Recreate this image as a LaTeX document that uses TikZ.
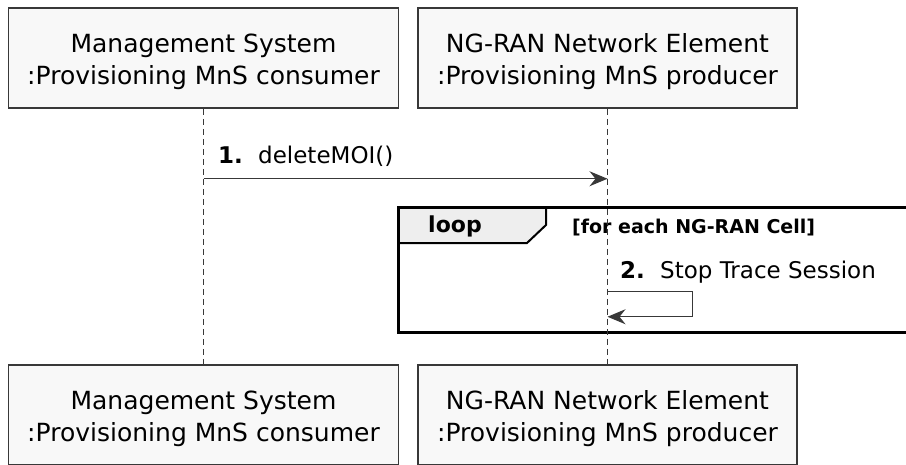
\documentclass[tikz,border=0pt]{standalone}
\usepackage{fontspec}
\setmainfont{DejaVu Sans}
\usetikzlibrary{arrows.meta}
\definecolor{partfill}{RGB}{248,248,248}
\definecolor{partline}{RGB}{56,56,56}
\definecolor{tabfill}{RGB}{238,238,238}
\tikzset{
  participant/.style={draw=partline, line width=1.5pt, fill=partfill,
    minimum height=100pt, inner sep=0pt},
  parttext/.style={align=center, inner sep=0pt, font=\fontsize{25}{32}\selectfont},
  lifeline/.style={draw=partline, line width=1pt, dash pattern=on 6pt off 4pt},
  msg/.style={draw=partline, line width=1pt, -{Stealth[length=18pt,width=15pt,inset=6pt]}},
  msglabel/.style={anchor=base west, inner sep=0pt, font=\fontsize{23}{28}\selectfont},
  seqnum/.style={msglabel, font=\bfseries\fontsize{23}{28}\selectfont},
}
\newcommand{\partbox}[5]{%
  \node[participant, minimum width=#4pt] (#1) at (#2,#3) {};
  \node[parttext] (#1 text) at ([yshift=-4pt]#1.center) {#5};}
\begin{document}
\begin{tikzpicture}[x=1pt,y=-1pt]
\useasboundingbox (0,0) rectangle (906,464);
% participants, top and bottom
\partbox{ms top}{203.5}{58}{390}{Management System\\:Provisioning MnS consumer}
\partbox{ne top}{607.5}{58}{379}{NG-RAN Network Element\\:Provisioning MnS producer}
\partbox{ms bot}{203.5}{415}{390}{Management System\\:Provisioning MnS consumer}
\partbox{ne bot}{607.5}{415}{379}{NG-RAN Network Element\\:Provisioning MnS producer}
% loop frame
\draw[line width=2pt, fill=tabfill] (398,207) -- (546,207) -- (546,225) -- (527,243) -- (398,243) -- cycle;
\draw[line width=3pt] (398,207) rectangle (930,332);
\node[font=\bfseries\fontsize{22}{26}\selectfont] (loop) at (455,226) {loop};
\node[anchor=west, inner sep=0pt, font=\bfseries\fontsize{19}{24}\selectfont] (guard) at (572,228) {[for each NG-RAN Cell]};
% lifelines
\draw[lifeline] (ms top) -- (ms bot);
\draw[lifeline] (ne top) -- (ne bot);
% messages
\path (ms top.south) ++(0,70) coordinate (m1a);
\path (ne top.south) ++(0,70) coordinate (m1b);
\draw[msg] (m1a) -- (m1b);
\node[seqnum] (n1) at (218,163) {1.};
\node[msglabel] (t1) at (258,163) {deleteMOI()};
\path (ne top.south) ++(0,183) coordinate (s2a);
\path (ne top.south) ++(0,208) coordinate (s2b);
\draw[msg] (s2a) -- ++(85,0) |- (s2b);
\node[seqnum] (n2) at (620,278) {2.};
\node[msglabel] (t2) at (660,278) {Stop Trace Session};
\end{tikzpicture}
\end{document}
